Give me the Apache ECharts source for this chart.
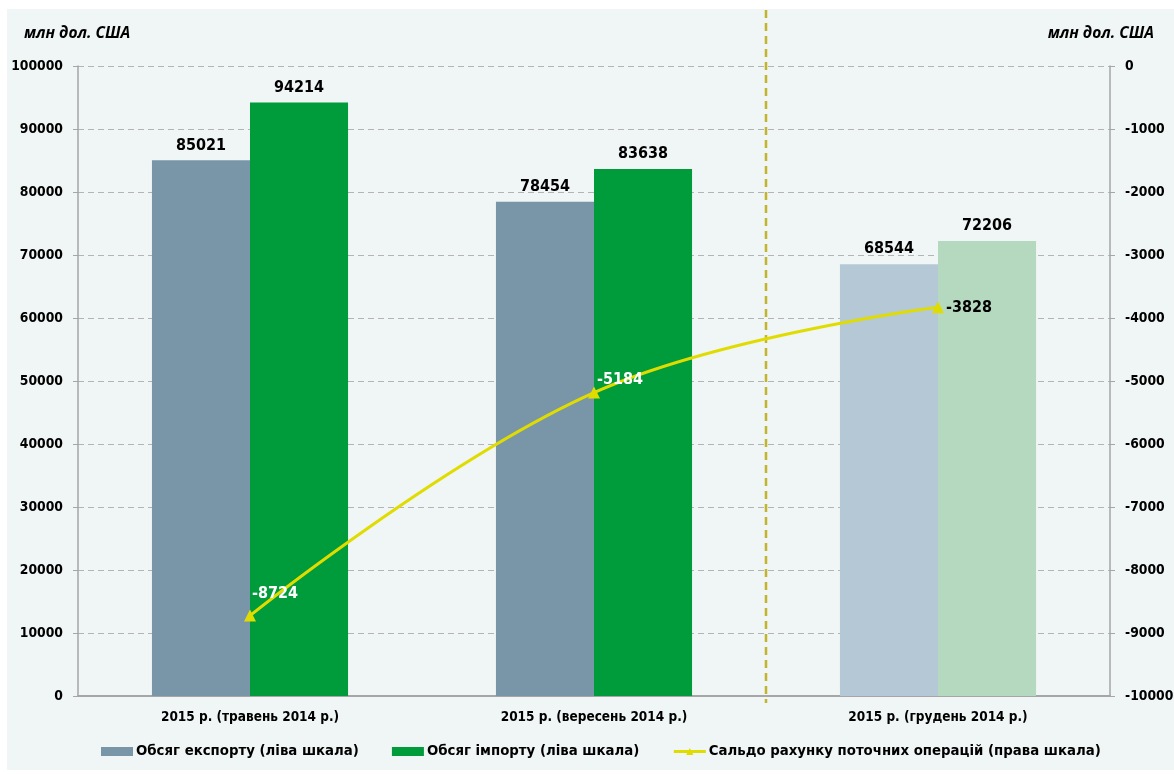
<!DOCTYPE html>
<html>
<head>
<meta charset="utf-8">
<script src="https://cdn.jsdelivr.net/npm/echarts@6/dist/echarts.min.js"></script>
<style>
body{margin:0;background:#fff;}
#panel{position:absolute;left:7px;top:9px;width:1167px;height:761px;background:#f0f5f5;}
#main{position:absolute;left:0;top:0;width:1174px;height:774px;}
</style>
</head>
<body>
<div id="panel"></div>
<div id="main"></div>
<script>
const categories = ['2015 р. (травень 2014 р.)', '2015 р. (вересень 2014 р.)', '2015 р. (грудень 2014 р.)'];
const exportVals = [85021, 78454, 68544];
const importVals = [94214, 83638, 72206];
const balanceVals = [-8724, -5184, -3828];
const seriesNames = ['Обсяг експорту (ліва шкала)', 'Обсяг імпорту (ліва шкала)', 'Сальдо рахунку поточних операцій (права шкала)'];
const unitLabel = 'млн дол. США';

const NARROW = '"DejaVu Sans Condensed", "Liberation Sans Narrow", sans-serif';
const exportColors = ['#7896a8', '#7896a8', '#b4c8d5'];
const importColors = ['#009c3b', '#009c3b', '#b4d9be'];
// label placement for the balance points
const balLabel = [
    {color: '#fff', offset: [0, -22], distance: -4},
    {color: '#fff', offset: [0, -13], distance: -3},
    {color: '#000', offset: [0, 1], distance: 2}
];

function barData(vals, colors){
    return vals.map((v, i) => ({value: v, itemStyle: {color: colors[i]}}));
}
const plain = v => String(v);

let chart = echarts.init(document.getElementById('main'), null, {renderer: 'canvas'});
let option = {
    animation: false,
    textStyle: {fontFamily: NARROW},
    grid: {left: 78, right: 64, top: 66, bottom: 78, outerBoundsMode: 'none', containLabel: false},
    legend: {
        top: 739,
        left: 96,
        itemWidth: 32,
        itemHeight: 9,
        itemGap: 33,
        lineStyle: {width: 3},
        textStyle: {fontFamily: NARROW, fontWeight: 'bold', fontSize: 14.8, color: '#000', padding: [0, 0, 0, -2]},
        data: [
            {name: seriesNames[0], icon: 'rect'},
            {name: seriesNames[1], icon: 'rect'},
            {name: seriesNames[2]}
        ]
    },
    xAxis: {
        type: 'category',
        data: categories,
        axisLine: {lineStyle: {color: '#a6a6a6', width: 2}},
        axisTick: {length: 6, lineStyle: {color: '#a6a6a6'}},
        axisLabel: {margin: 14, fontFamily: NARROW, fontWeight: 'bold', fontSize: 13.5, color: '#000'}
    },
    yAxis: [{
        type: 'value',
        min: 0, max: 100000, interval: 10000,
        axisLine: {show: true, lineStyle: {color: '#a6a6a6', width: 1.5}},
        axisTick: {show: true, length: 5, lineStyle: {color: '#a6a6a6'}},
        axisLabel: {margin: 15, formatter: plain, fontFamily: NARROW, fontWeight: 'bold', fontSize: 13.8, color: '#000'},
        splitLine: {lineStyle: {color: '#b4b4b4', type: [6, 4]}}
    }, {
        type: 'value',
        min: -10000, max: 0, interval: 1000,
        axisLine: {show: true, lineStyle: {color: '#a6a6a6', width: 1.5}},
        axisTick: {show: true, length: 5, lineStyle: {color: '#a6a6a6'}},
        axisLabel: {margin: 15, formatter: plain, fontFamily: NARROW, fontWeight: 'bold', fontSize: 13.8, color: '#000'},
        splitLine: {show: false}
    }],
    series: [{
        name: seriesNames[0],
        type: 'bar',
        data: barData(exportVals, exportColors),
        itemStyle: {color: exportColors[0]},
        barGap: '0%',
        barCategoryGap: '43%',
        label: {show: true, position: 'top', distance: 7, fontFamily: NARROW, fontWeight: 'bold', fontSize: 16, color: '#000'}
    }, {
        name: seriesNames[1],
        type: 'bar',
        data: barData(importVals, importColors),
        itemStyle: {color: importColors[0]},
        barGap: '0%',
        barCategoryGap: '43%',
        label: {show: true, position: 'top', distance: 7, fontFamily: NARROW, fontWeight: 'bold', fontSize: 16, color: '#000'}
    }, {
        name: seriesNames[2],
        type: 'line',
        yAxisIndex: 1,
        smooth: 0.4,
        symbol: 'triangle',
        symbolSize: 12,
        itemStyle: {color: '#e1dc00'},
        lineStyle: {color: '#e1dc00', width: 3},
        z: 5,
        data: balanceVals.map((v, i) => ({
            value: v,
            label: {show: true, position: 'right', color: balLabel[i].color,
                    offset: balLabel[i].offset, distance: balLabel[i].distance}
        })),
        label: {fontFamily: NARROW, fontWeight: 'bold', fontSize: 16}
    }]
};
chart.setOption(option);

// divider between 2nd and 3rd period and the unit captions
let x1 = chart.convertToPixel({xAxisIndex: 0}, categories[1]);
let x2 = chart.convertToPixel({xAxisIndex: 0}, categories[2]);
let xd = (x1 + x2) / 2;
chart.setOption({
    graphic: [{
        type: 'line',
        shape: {x1: xd, y1: 10, x2: xd, y2: 703},
        style: {stroke: '#c2b42c', lineWidth: 2.5, lineDash: [8, 5]},
        z: 1
    }, {
        type: 'text', left: 24, top: 26,
        style: {text: unitLabel, fill: '#000', font: 'italic bold 15.5px "Open Sans", "Liberation Sans", sans-serif'}
    }, {
        type: 'text', right: 20, top: 26,
        style: {text: unitLabel, fill: '#000', font: 'italic bold 15.5px "Open Sans", "Liberation Sans", sans-serif'}
    }]
});
</script>
</body>
</html>
